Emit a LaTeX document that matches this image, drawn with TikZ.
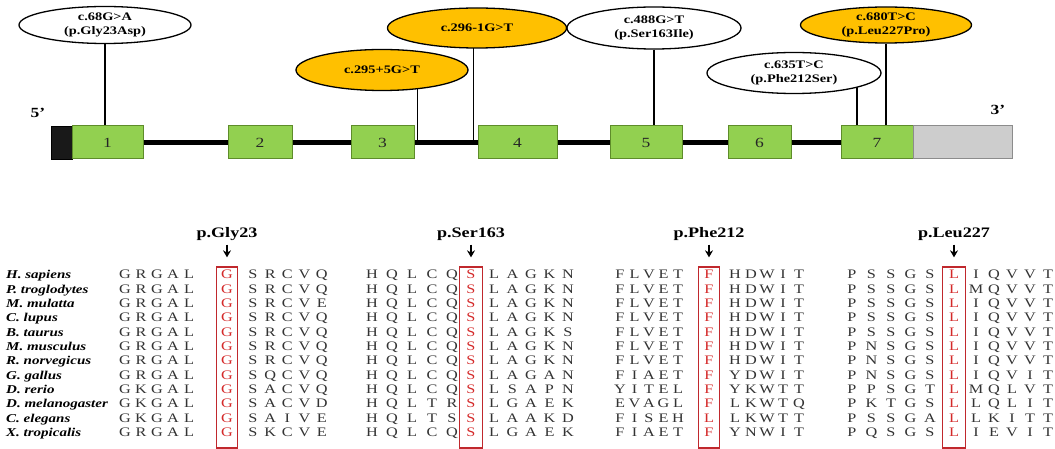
\documentclass[tikz,border=0pt]{standalone}
\usepackage{fontspec}
\setmainfont{Liberation Serif}[FakeStretch=1.25]
\usetikzlibrary{arrows.meta, shapes.geometric, backgrounds}

\definecolor{exongreen}{HTML}{92D050}
\definecolor{exonedge}{HTML}{5E8C2A}
\definecolor{utrgray}{HTML}{CDCDCD}
\definecolor{utredge}{HTML}{8C8C8C}
\definecolor{varorange}{HTML}{FFC000}
\definecolor{alnred}{HTML}{D42A2A}
\definecolor{boxred}{HTML}{C0282D}

\tikzset{
  exon/.style={draw=exonedge, fill=exongreen, line width=1pt, minimum height=33pt, inner sep=0pt, font=\fontsize{14}{14}\selectfont, text=black!85},
  utr/.style={draw=utredge, fill=utrgray, line width=1pt, minimum height=33pt, inner sep=0pt},
  cap5/.style={draw=black, fill=black!90, minimum height=33pt, inner sep=0pt},
  variant/.style={ellipse, draw=black, line width=1.3pt, fill=white, inner sep=0pt, align=center, font=\fontsize{11.5}{13.5}\selectfont\bfseries},
  hot/.style={variant, fill=varorange},
  stem/.style={line width=1.3pt},
  backbone/.style={line width=4.5pt},
  endlabel/.style={font=\fontsize{14}{14}\selectfont\bfseries},
  res/.style={anchor=base, inner sep=0pt, font=\fontsize{13}{13}\selectfont, text=black!80},
  species/.style={anchor=base west, inner sep=0pt, font=\fontsize{12}{12}\selectfont\bfseries\itshape},
  site/.style={anchor=base, font=\fontsize{14.5}{14.5}\selectfont\bfseries},
  hlbox/.style={draw=boxred, line width=1.3pt, inner sep=0pt, minimum height=181pt},
  pointer/.style={-{Stealth[length=7pt,width=8pt]}, line width=1.3pt, shorten >=9pt},
}

% one alignment block: name, left x, left step, mid x, right x, right step, rows
\newcommand{\alnblock}[7]{%
  \foreach \seq [count=\r from 0] in {#7} {
    \foreach \res [count=\k] in \seq {
      \pgfmathsetmacro\xx{\k<6 ? #2+(\k-1)*#3 : (\k==6 ? #4 : #5+(\k-7)*#6)}
      \ifnum\k=6 \def\rescol{alnred}\else\def\rescol{black!80}\fi
      \node[res, text=\rescol] (#1-\r-\k) at (\xx, {279+14.3*\r}) {\res};
    }
  }
}

\begin{document}
\begin{tikzpicture}[x=1pt, y=-1pt]
\useasboundingbox (0,0) rectangle (1055,449);

% gene structure
\node[cap5, minimum width=21pt] (utr5) at (61.5,142.5) {};
\node[exon, minimum width=71pt] (ex1) at (107.5,142.5) {1};
\node[exon, minimum width=64pt] (ex2) at (260,142.5) {2};
\node[exon, minimum width=63pt] (ex3) at (382.5,142.5) {3};
\node[exon, minimum width=79pt] (ex4) at (517.5,142.5) {4};
\node[exon, minimum width=72pt] (ex5) at (646,142.5) {5};
\node[exon, minimum width=63pt] (ex6) at (759.5,142.5) {6};
\node[exon, minimum width=72pt] (ex7) at (877,142.5) {7};
\node[utr, minimum width=99pt] (utr3) at (962.5,142.5) {};
\node[endlabel] (five) at (38,113) {5'};
\node[endlabel] (three) at (998,110) {3'};

% variants
\node[variant, minimum width=172pt, minimum height=37pt] (m1) at (105,25) {c.68G>A\\(p.Gly23Asp)};
\node[hot, minimum width=172pt, minimum height=41pt] (m2) at (382,70) {c.295+5G>T};
\node[hot, minimum width=179pt, minimum height=40pt] (m3) at (477,28) {c.296-1G>T};
\node[variant, minimum width=174pt, minimum height=42pt] (m4) at (654,28) {c.488G>T\\(p.Ser163Ile)};
\node[variant, minimum width=174pt, minimum height=41pt] (m5) at (794,73) {c.635T>C\\(p.Phe212Ser)};
\node[hot, minimum width=171pt, minimum height=36pt] (m6) at (886,25) {c.680T>C\\(p.Leu227Pro)};

\path (ex3.east) ++(3,0) coordinate (s2);
\path (ex4.west) ++(-4,0) coordinate (s3);
\path (ex7.north) ++(-20,0) coordinate (s5);

\begin{scope}[on background layer]
\draw[backbone] (utr5.east) -- (ex7.west);
\draw[stem] (m1) -- (m1 |- ex1.north);
\draw[stem] (s2 |- m2) -- (s2);
\draw[stem] (s3 |- m3) -- (s3);
\draw[stem] (m4) -- (m4 |- ex5.north);
\draw[stem] (s5 |- m5) -- (s5);
\draw[stem] (m6) -- (m6 |- ex7.north);
\end{scope}

% conserved sites
\node[site] (glyhead) at (227,238) {p.Gly23};
\node[site] (serhead) at (471,238) {p.Ser163};
\node[site] (phehead) at (709,238) {p.Phe212};
\node[site] (leuhead) at (954,238) {p.Leu227};
\node[hlbox, minimum width=21pt] (glybox) at (227,357.5) {};
\node[hlbox, minimum width=23pt] (serbox) at (471,357.5) {};
\node[hlbox, minimum width=21pt] (phebox) at (709,357.5) {};
\node[hlbox, minimum width=23pt] (leubox) at (954,357.5) {};
\draw[pointer] (glyhead) -- (glybox);
\draw[pointer] (serhead) -- (serbox);
\draw[pointer] (phehead) -- (phebox);
\draw[pointer] (leuhead) -- (leubox);

% species
\foreach \sp [count=\r from 0] in {H. sapiens, P. troglodytes, M. mulatta, C. lupus, B. taurus, M. musculus, R. norvegicus, G. gallus, D. rerio, D. melanogaster, C. elegans, X. tropicalis}
  \node[species] (sp-\r) at (6, {279+14.3*\r}) {\sp};

% alignments
\alnblock{gly}{125}{16}{227}{253}{17.2}{
  {G,R,G,A,L,G,S,R,C,V,Q}, {G,R,G,A,L,G,S,R,C,V,Q}, {G,R,G,A,L,G,S,R,C,V,E},
  {G,R,G,A,L,G,S,R,C,V,Q}, {G,R,G,A,L,G,S,R,C,V,Q}, {G,R,G,A,L,G,S,R,C,V,Q},
  {G,R,G,A,L,G,S,R,C,V,Q}, {G,R,G,A,L,G,S,Q,C,V,Q}, {G,K,G,A,L,G,S,A,C,V,Q},
  {G,K,G,A,L,G,S,A,C,V,D}, {G,K,G,A,L,G,S,A,I,V,E}, {G,R,G,A,L,G,S,K,C,V,E}}
\alnblock{ser}{372}{20}{471}{494}{18.5}{
  {H,Q,L,C,Q,S,L,A,G,K,N}, {H,Q,L,C,Q,S,L,A,G,K,N}, {H,Q,L,C,Q,S,L,A,G,K,N},
  {H,Q,L,C,Q,S,L,A,G,K,N}, {H,Q,L,C,Q,S,L,A,G,K,S}, {H,Q,L,C,Q,S,L,A,G,K,N},
  {H,Q,L,C,Q,S,L,A,G,K,N}, {H,Q,L,C,Q,S,L,A,G,A,N}, {H,Q,L,C,Q,S,L,S,A,P,N},
  {H,Q,L,T,R,S,L,G,A,E,K}, {H,Q,L,T,S,S,L,A,A,K,D}, {H,Q,L,C,Q,S,L,G,A,E,K}}
\alnblock{phe}{620}{14.5}{709}{735}{16}{
  {F,L,V,E,T,F,H,D,W,I,T}, {F,L,V,E,T,F,H,D,W,I,T}, {F,L,V,E,T,F,H,D,W,I,T},
  {F,L,V,E,T,F,H,D,W,I,T}, {F,L,V,E,T,F,H,D,W,I,T}, {F,L,V,E,T,F,H,D,W,I,T},
  {F,L,V,E,T,F,H,D,W,I,T}, {F,I,A,E,T,F,Y,D,W,I,T}, {Y,I,T,E,L,F,Y,K,W,T,T},
  {E,V,A,G,L,F,L,K,W,T,Q}, {F,I,S,E,H,L,L,K,W,T,T}, {F,I,A,E,T,F,Y,N,W,I,T}}
\alnblock{leu}{852}{19.5}{954}{976}{18}{
  {P,S,S,G,S,L,I,Q,V,V,T}, {P,S,S,G,S,L,M,Q,V,V,T}, {P,S,S,G,S,L,I,Q,V,V,T},
  {P,S,S,G,S,L,I,Q,V,V,T}, {P,S,S,G,S,L,I,Q,V,V,T}, {P,N,S,G,S,L,I,Q,V,V,T},
  {P,N,S,G,S,L,I,Q,V,V,T}, {P,N,S,G,S,L,I,Q,V,I,T}, {P,P,S,G,T,L,M,Q,L,V,T},
  {P,K,T,G,S,L,L,Q,L,I,T}, {P,S,S,G,A,L,L,K,I,T,T}, {P,Q,S,G,S,L,I,E,V,I,T}}
\end{tikzpicture}
\end{document}
